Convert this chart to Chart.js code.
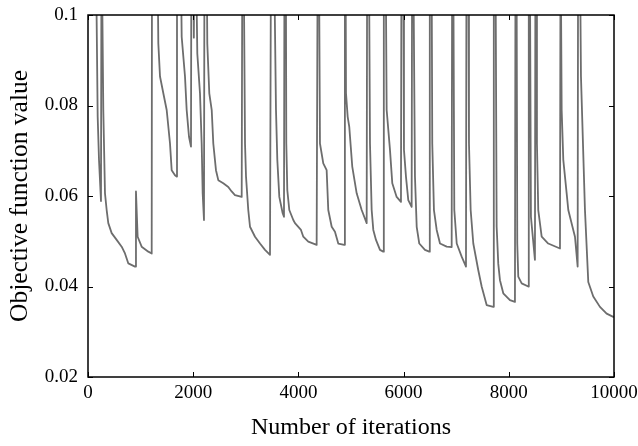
<!DOCTYPE html>
<html>
<head>
<meta charset="utf-8">
<script src="https://cdn.jsdelivr.net/npm/chart.js"></script>
<style>
  html, body { margin: 0; padding: 0; background: #fff; }
  canvas { display: block; }
</style>
</head>
<body>
<canvas id="objChart" width="638" height="446"></canvas>
<script>
// iteration number of each point
const iterations = [
  0, 145, 184, 209, 247, 257,
  262, 291, 323, 355, 386, 450, 545, 640, 703, 767, 893, 905, 912, 944, 1020, 1147, 1211, 1217,
  1315, 1337, 1369, 1432, 1496, 1559, 1591, 1654, 1686, 1692,
  1758, 1781, 1844, 1876, 1920, 1958, 1966,
  2000, 2012, 2024,
  2045, 2078, 2129, 2161, 2180, 2205, 2215,
  2252, 2268, 2306, 2352, 2382, 2433, 2477, 2572, 2667, 2731, 2794, 2922, 2935,
  2955, 2985, 3004, 3047, 3080, 3175, 3270, 3365, 3460, 3480,
  3530, 3574, 3599, 3637, 3701, 3726, 3736,
  3760, 3770, 3789, 3827, 3903, 3935, 4049, 4093, 4188, 4347, 4368,
  4388, 4410, 4473, 4537, 4568, 4633, 4695, 4758, 4872, 4884,
  4895, 4905, 4937, 4967, 5024, 5108, 5203, 5298, 5308,
  5338, 5361, 5393, 5424, 5475, 5551, 5614, 5624,
  5655, 5678, 5741, 5785, 5868, 5950, 5960,
  5992, 6007, 6045, 6089, 6153, 6163,
  6180, 6216, 6249, 6298, 6406, 6488, 6498,
  6530, 6545, 6577, 6629, 6692, 6819, 6914, 6924,
  6942, 6964, 7010, 7104, 7186, 7196,
  7228, 7243, 7275, 7325, 7420, 7484, 7579, 7705, 7715,
  7745, 7769, 7800, 7832, 7895, 8022, 8117, 8128,
  8146, 8161, 8180, 8245, 8370, 8380,
  8398, 8421, 8497, 8507,
  8525, 8535, 8560, 8625, 8750, 8973, 8984,
  8990, 9005, 9036, 9100, 9131, 9258, 9309, 9318,
  9348, 9372, 9448, 9511, 9606, 9733, 9860, 9986, 10000
];

// objective value at those iterations (0.12 = off the top of the plot)
const objective = [
  0.12, 0.12, 0.0775, 0.068, 0.0589, 0.12,
  0.12, 0.079, 0.0606, 0.0569, 0.054, 0.0518, 0.0503, 0.0488, 0.0473, 0.0451, 0.0444, 0.0444, 0.061, 0.051, 0.0488, 0.0477, 0.0473, 0.12,
  0.12, 0.0937, 0.0864, 0.0827, 0.079, 0.0716, 0.0657, 0.0646, 0.0643, 0.12,
  0.12, 0.0952, 0.0864, 0.079, 0.0731, 0.0709, 0.12,
  0.12, 0.095, 0.12,
  0.12, 0.0915, 0.0827, 0.0716, 0.0606, 0.0547, 0.12,
  0.12, 0.0937, 0.0827, 0.079, 0.0716, 0.0657, 0.0635, 0.0628, 0.062, 0.061, 0.0602, 0.0598, 0.12,
  0.12, 0.0716, 0.0643, 0.0569, 0.0532, 0.051, 0.0495, 0.0481, 0.047, 0.12,
  0.12, 0.079, 0.068, 0.0598, 0.0562, 0.0554, 0.12,
  0.12, 0.0716, 0.0613, 0.0569, 0.0547, 0.054, 0.0525, 0.051, 0.0499, 0.0492, 0.12,
  0.12, 0.0716, 0.0672, 0.0657, 0.0569, 0.0532, 0.0521, 0.0495, 0.0492, 0.12,
  0.12, 0.0827, 0.0775, 0.0753, 0.0665, 0.0606, 0.0569, 0.054, 0.12,
  0.12, 0.0716, 0.0569, 0.0525, 0.0503, 0.0481, 0.0477, 0.12,
  0.12, 0.079, 0.0702, 0.0628, 0.0598, 0.0587, 0.12,
  0.12, 0.0702, 0.0643, 0.0591, 0.0576, 0.12,
  0.12, 0.0643, 0.0532, 0.0495, 0.0481, 0.0477, 0.12,
  0.12, 0.0716, 0.0569, 0.0525, 0.0495, 0.0488, 0.0487, 0.12,
  0.12, 0.0569, 0.0495, 0.0466, 0.0444, 0.12,
  0.12, 0.0716, 0.0569, 0.0495, 0.0436, 0.04, 0.0359, 0.0355, 0.12,
  0.12, 0.0532, 0.045, 0.0414, 0.0385, 0.037, 0.0366, 0.12,
  0.12, 0.0495, 0.0422, 0.0407, 0.04, 0.12,
  0.12, 0.0554, 0.0459, 0.12,
  0.12, 0.0716, 0.0569, 0.051, 0.0495, 0.0484, 0.12,
  0.12, 0.079, 0.068, 0.0606, 0.0569, 0.051, 0.0444, 0.12,
  0.12, 0.0864, 0.0569, 0.041, 0.0378, 0.0355, 0.034, 0.0333, 0.0332
];

const xTickValues = [0, 2000, 4000, 6000, 8000, 10000];
const yTickValues = [0.02, 0.04, 0.06, 0.08, 0.1];

const points = iterations.map((it, i) => ({ x: it, y: objective[i] }));

Chart.defaults.font.family = '"Liberation Serif", "DejaVu Serif", serif';
Chart.defaults.color = '#000';

// box around plot + inward ticks on all four sides
const frameTicks = {
  id: 'frameTicks',
  afterDatasetsDraw(chart) {
    const { ctx, chartArea: a, scales } = chart;
    const len = 5;
    ctx.save();
    ctx.strokeStyle = '#000';
    ctx.lineWidth = 1;
    ctx.beginPath();
    scales.x.ticks.forEach(t => {
      const px = Math.round(scales.x.getPixelForValue(t.value)) + 0.5;
      ctx.moveTo(px, a.bottom); ctx.lineTo(px, a.bottom - len);
      ctx.moveTo(px, a.top); ctx.lineTo(px, a.top + len);
    });
    scales.y.ticks.forEach(t => {
      const py = Math.round(scales.y.getPixelForValue(t.value)) + 0.5;
      ctx.moveTo(a.left, py); ctx.lineTo(a.left + len, py);
      ctx.moveTo(a.right, py); ctx.lineTo(a.right - len, py);
    });
    ctx.stroke();
    ctx.lineWidth = 1.5;
    ctx.strokeRect(a.left, a.top, a.right - a.left, a.bottom - a.top);
    ctx.restore();
  }
};

const objChart = new Chart(document.getElementById('objChart'), {
  type: 'line',
  data: {
    datasets: [{
      label: 'objective',
      data: points,
      borderColor: '#6d6d6d',
      borderWidth: 1.8,
      borderJoinStyle: 'round',
      pointRadius: 0,
      tension: 0,
      fill: false,
      clip: 0
    }]
  },
  options: {
    responsive: false,
    animation: false,
    devicePixelRatio: 1,
    layout: { padding: { top: 15, right: 24, left: 0, bottom: 0 } },
    plugins: {
      legend: { display: false },
      tooltip: { enabled: false }
    },
    scales: {
      x: {
        type: 'linear',
        min: 0,
        max: 10000,
        afterBuildTicks: s => { s.ticks = xTickValues.map(v => ({ value: v })); },
        afterFit: s => { s.height = 69; s.paddingLeft = 0; s.paddingRight = 0; },
        grid: { display: false, drawTicks: false },
        border: { display: false },
        ticks: {
          autoSkip: false,
          maxRotation: 0,
          padding: 5,
          font: { size: 19 },
          callback: v => String(v)
        },
        title: {
          display: true,
          text: 'Number of iterations',
          font: { size: 24 },
          padding: { top: 0, bottom: 4 }
        }
      },
      y: {
        min: 0.02,
        max: 0.1,
        afterBuildTicks: s => { s.ticks = yTickValues.map(v => ({ value: v })); },
        afterFit: s => { s.width = 88; s.paddingTop = 0; s.paddingBottom = 0; },
        grid: { display: false, drawTicks: false },
        border: { display: false },
        ticks: {
          padding: 10,
          font: { size: 19 },
          callback: v => String(Number(v.toFixed(2)))
        },
        title: {
          display: true,
          text: 'Objective function value',
          font: { size: 25.5 },
          padding: { top: 5, bottom: 0 }
        }
      }
    }
  },
  plugins: [frameTicks]
});
</script>
</body>
</html>
